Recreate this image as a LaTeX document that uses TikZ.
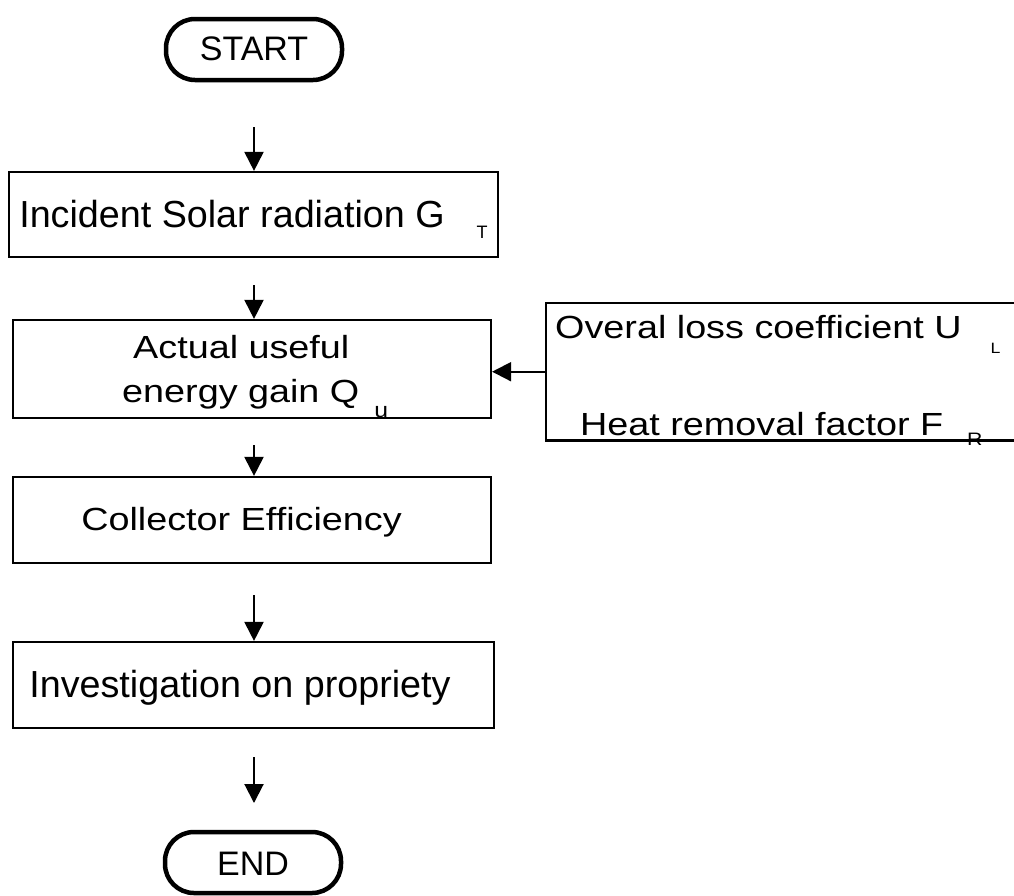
\documentclass[tikz,border=0pt]{standalone}
\usepackage{fontspec}
\setmainfont{Liberation Sans}
\newfontfamily\widefont[FakeStretch=1.18]{Liberation Sans}
\usetikzlibrary{arrows.meta}
\begin{document}
\begin{tikzpicture}[x=1pt,y=-1pt,
  box/.style={draw, line width=2.2pt, rectangle, inner sep=0pt},
  term/.style={draw, line width=4.5pt, rectangle, rounded corners=29pt, inner sep=0pt,
    minimum width=176pt, minimum height=61pt, font=\fontsize{34}{34}\selectfont},
  flow/.style={line width=2pt, -{Triangle[length=19pt,width=19pt]}},
  plain/.style={font=\fontsize{37.7}{40}\selectfont},
  wide/.style={font=\widefont\fontsize{32}{36}\selectfont},
  txt/.style={inner sep=0pt, anchor=base west},
]
\useasboundingbox (0,0) rectangle (1014,895);

\node[term, text height=25pt, text depth=4pt] (start) at (254,49.5) {START};

\node[box, minimum width=489pt, minimum height=85pt, plain, text height=28pt, text depth=3pt] (inc) at (253.5,214.5)
  {Incident Solar radiation G\hspace{32pt}\raisebox{-11pt}{\fontsize{18}{18}\selectfont T}};

\node[box, minimum width=478pt, minimum height=98pt] (gain) at (252,369) {};
\node[txt, wide] (gain1) at (133,358) {Actual useful};
\node[txt, wide] (gain2) at (122,402) {energy gain Q\hspace{15pt}\raisebox{-15pt}{\fontsize{21}{21}\selectfont u}};

\node[box, minimum width=478pt, minimum height=86pt, wide, text height=23pt, text depth=3pt] (eff) at (252,520)
  {Collector Efficiency\hspace*{21pt}};

\node[box, minimum width=481pt, minimum height=86pt, plain, text height=27pt, text depth=3pt] (inv) at (253.5,685)
  {Investigation on propriety\hspace*{27pt}};

\node[term, text height=27pt, text depth=2pt] (stop) at (253,862.5) {END};

\node[inner sep=0pt, minimum width=468pt, minimum height=137pt, anchor=north west] (loss) at (546,303) {};
\draw[line width=2.2pt] (loss.north east) -- (loss.north west) -- (loss.south west) -- (loss.south east);
\node[txt, wide] (loss1) at (555,338) {Overal loss coefficient U\hspace{29pt}\raisebox{-15pt}{\fontsize{15}{15}\selectfont L}};
\node[txt, wide] (loss2) at (580,435) {Heat removal factor F\hspace{24pt}\raisebox{-10pt}{\fontsize{18}{18}\selectfont R}};

\coordinate (a1) at (254,127);
\draw[flow] (a1) -- (a1 |- inc.north);
\coordinate (a2) at (254,285);
\draw[flow] (a2) -- (a2 |- gain.north);
\coordinate (a3) at (254,445);
\draw[flow] (a3) -- (a3 |- eff.north);
\coordinate (a4) at (254,595);
\draw[flow] (a4) -- (a4 |- inv.north);
\coordinate (a5) at (254,757);
\coordinate (a5e) at (254,803);
\draw[flow] (a5) -- (a5e);
\draw[flow] (loss.west) -- (loss.west -| gain.east);
\end{tikzpicture}
\end{document}
